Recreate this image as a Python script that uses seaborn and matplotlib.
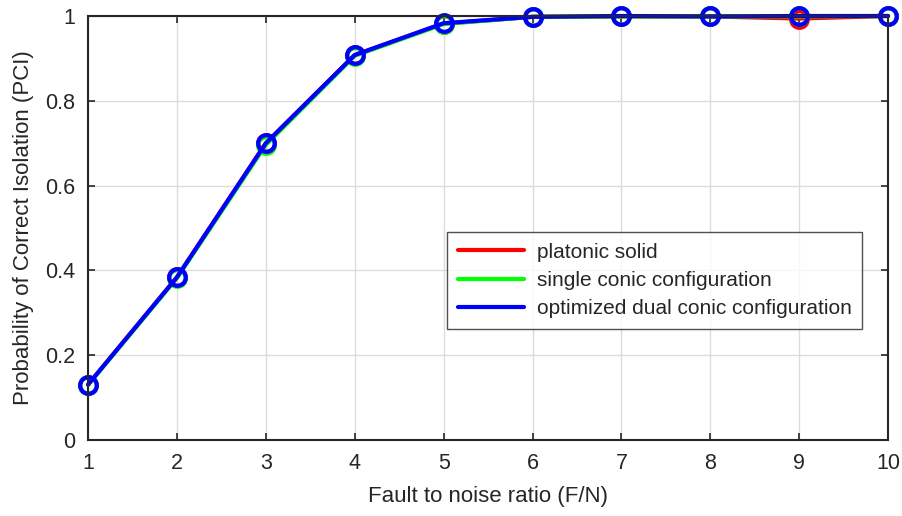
import numpy as np
import matplotlib.pyplot as plt
import pandas as pd
import seaborn as sns

# values
fn_ratio = [1, 2, 3, 4, 5, 6, 7, 8, 9, 10]
platonic = [0.131, 0.384, 0.700, 0.908, 0.982, 0.998, 0.999, 0.999, 0.994, 1.0]
single_conic = [0.130, 0.382, 0.696, 0.906, 0.981, 0.998, 0.999, 0.999, 0.999, 1.0]
dual_conic = [0.131, 0.384, 0.700, 0.908, 0.983, 0.998, 1.0, 0.999, 1.0, 1.0]

labels = ['platonic solid', 'single conic configuration', 'optimized dual conic configuration']
colors = ['#ff0000', '#00ff00', '#0000ff']

df = pd.DataFrame({'FN': fn_ratio * 3,
                   'PCI': platonic + single_conic + dual_conic,
                   'config': [l for l in labels for _ in fn_ratio]})

sns.set_style('white')
plt.rcParams['font.family'] = ['Liberation Sans', 'DejaVu Sans']

fig = plt.figure(figsize=(9.02, 5.16), dpi=100)
ax = fig.add_axes([0.0976, 0.147, 0.887, 0.822])

for lab, col in zip(labels, colors):
    sns.lineplot(data=df[df['config'] == lab], x='FN', y='PCI', ax=ax, color=col,
                 linewidth=3, marker='o', markersize=12, markerfacecolor='none',
                 markeredgecolor=col, markeredgewidth=3, label=lab, clip_on=False)

ax.set_xlim(1, 10)
ax.set_ylim(0, 1)
ax.set_xticks(range(1, 11))
ax.set_yticks([0, 0.2, 0.4, 0.6, 0.8, 1])
ax.set_yticklabels(['0', '0.2', '0.4', '0.6', '0.8', '1'])
ax.grid(True, color='#dcdcdc', linewidth=1)
ax.tick_params(direction='in', length=5, width=1.2, labelsize=15.5, colors='#262626',
               top=True, right=True, bottom=True, left=True, pad=9)
for s in ax.spines.values():
    s.set_visible(True)
    s.set_color('#262626')
    s.set_linewidth(1.5)
ax.set_xlabel('Fault to noise ratio (F/N)', fontsize=16, color='#262626', labelpad=9)
ax.set_ylabel('Probability of Correct Isolation (PCI)', fontsize=16, color='#262626', labelpad=8)

leg = ax.legend(loc='upper left', bbox_to_anchor=(0.449, 0.49), fontsize=15,
                frameon=True, fancybox=False, handlelength=3.2, borderpad=0.5,
                labelspacing=0.45, handletextpad=0.6, borderaxespad=0)
leg.get_frame().set_edgecolor('#262626')
leg.get_frame().set_linewidth(1)
for h in leg.legend_handles:
    h.set_marker('')

fig.savefig('out.png', dpi=100)
